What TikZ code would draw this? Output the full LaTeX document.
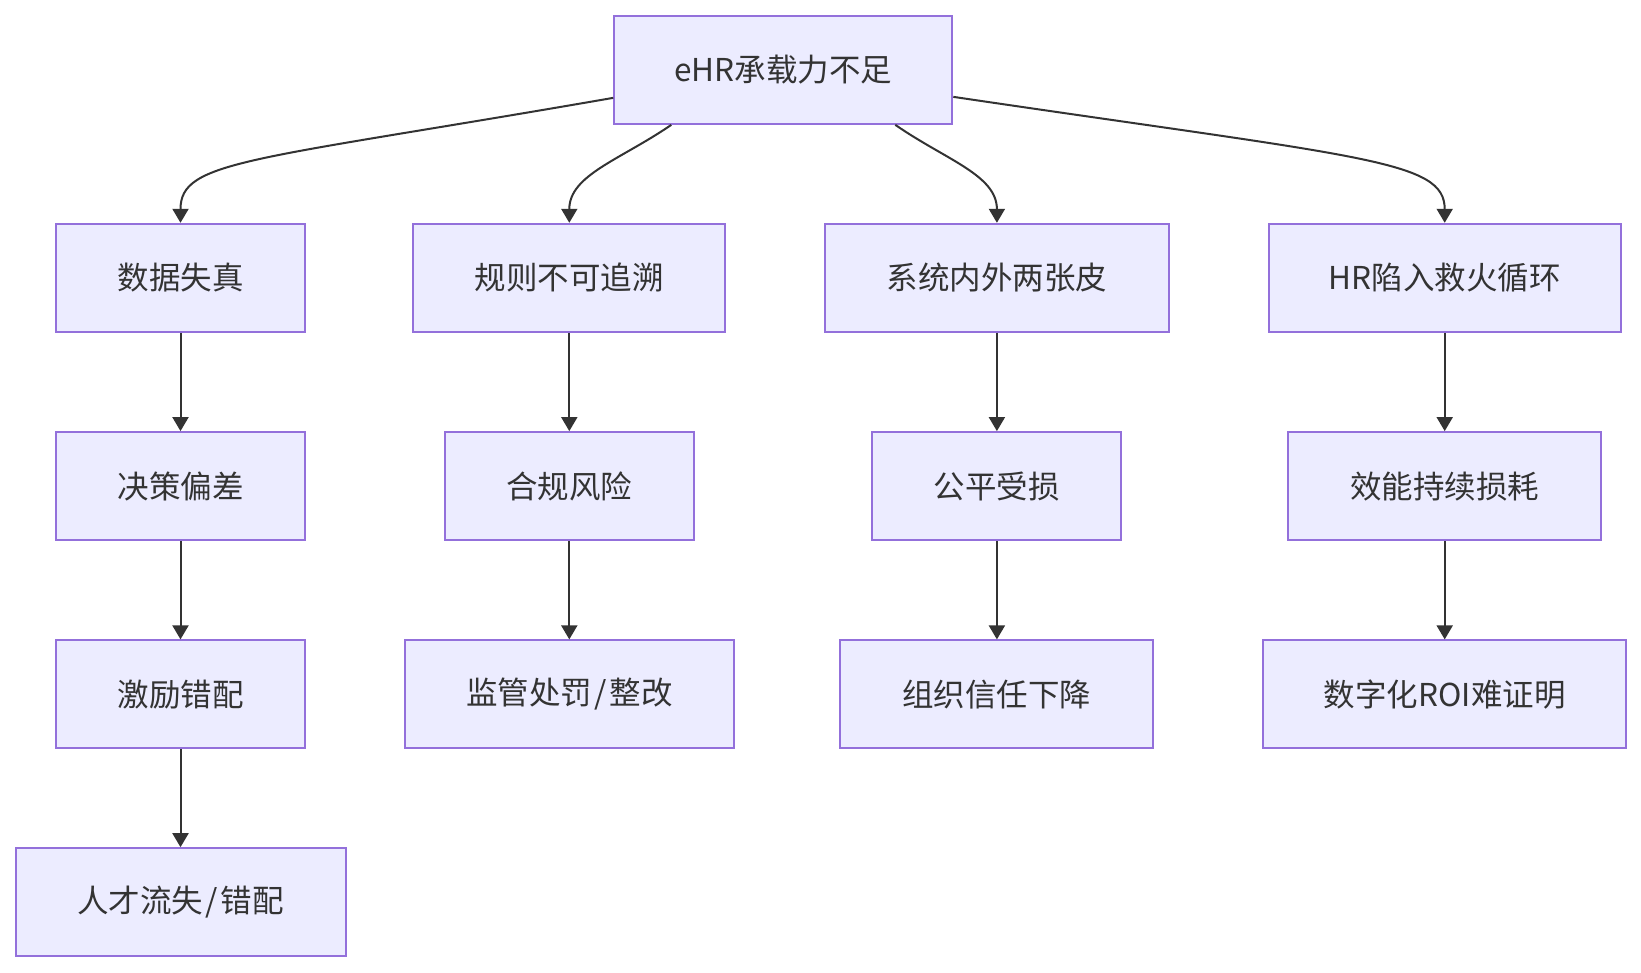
\documentclass[tikz,border=0pt]{standalone}
\usepackage{fontspec}
\setmainfont{Noto Sans CJK SC}
\usetikzlibrary{arrows.meta,calc}
\definecolor{boxfill}{HTML}{ECECFF}
\definecolor{boxline}{HTML}{9370DB}
\definecolor{txt}{HTML}{333333}
\newcommand{\wideslash}{\hspace{0.08em}/\hspace{0.08em}}
\begin{document}
\begin{tikzpicture}[x=1pt,y=-1pt,
  box/.style={draw=boxline,fill=boxfill,line width=2pt,minimum height=108pt,inner sep=0pt,text=txt,font=\fontsize{31.5pt}{38pt}\selectfont},
  edge/.style={draw=txt,line width=2pt,-{Triangle[length=14pt,width=16pt]}}]
\useasboundingbox (0,0) rectangle (1641,972);
% top
\node[box,minimum width=338pt] (top) at (783.3,69.85) {eHR承载力不足};
% column 1
\node[box,minimum width=249pt] (a1) at (180.5,277.8) {数据失真};
\node[box,minimum width=249pt] (a2) at (180.5,486.1) {决策偏差};
\node[box,minimum width=249pt] (a3) at (180.5,694.4) {激励错配};
\node[box,minimum width=330pt] (a4) at (180.5,902.2) {人才流失\wideslash 错配};
% column 2
\node[box,minimum width=312pt] (b1) at (569.3,277.8) {规则不可追溯};
\node[box,minimum width=249pt] (b2) at (569.3,486.1) {合规风险};
\node[box,minimum width=329pt] (b3) at (569.3,694.4) {监管处罚\wideslash 整改};
% column 3
\node[box,minimum width=344pt] (c1) at (996.9,277.8) {系统内外两张皮};
\node[box,minimum width=249pt] (c2) at (996.9,486.1) {公平受损};
\node[box,minimum width=313pt] (c3) at (996.9,694.4) {组织信任下降};
% column 4
\node[box,minimum width=352pt] (d1) at (1444.7,277.8) {HR陷入救火循环};
\node[box,minimum width=313pt] (d2) at (1444.7,486.1) {效能持续损耗};
\node[box,minimum width=363pt] (d3) at (1444.7,694.4) {数字化ROI难证明};
% curved edges from top
\draw[edge] ($(top.west)+(0,28)$) .. controls (250,161) and (180.5,160) .. (a1.north);
\draw[edge] ($(top.south)+(-112,0)$) .. controls (620,160) and (569.3,175) .. (b1.north);
\draw[edge] ($(top.south)+(112,0)$) .. controls (946,160) and (996.9,175) .. (c1.north);
\draw[edge] ($(top.east)+(0,27)$) .. controls (1366,158) and (1444.7,160) .. (d1.north);
% vertical edges
\draw[edge] (a1) -- (a2);
\draw[edge] (a2) -- (a3);
\draw[edge] (a3) -- (a4);
\draw[edge] (b1) -- (b2);
\draw[edge] (b2) -- (b3);
\draw[edge] (c1) -- (c2);
\draw[edge] (c2) -- (c3);
\draw[edge] (d1) -- (d2);
\draw[edge] (d2) -- (d3);
\end{tikzpicture}
\end{document}
